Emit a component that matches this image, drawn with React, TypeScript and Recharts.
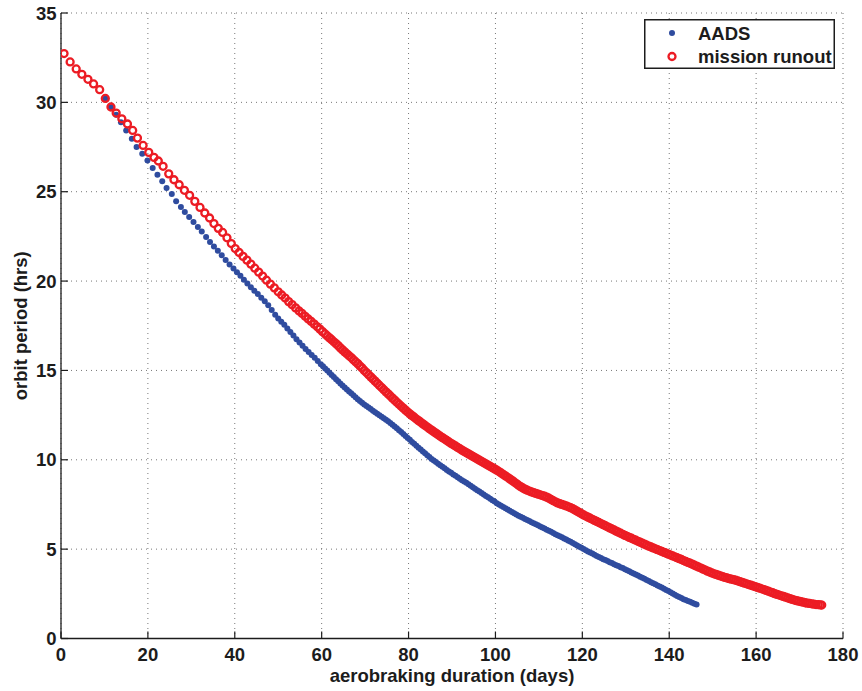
import { CartesianGrid, Legend, Scatter, ScatterChart, XAxis, YAxis } from "recharts";

// aerobraking: orbit period vs days, AADS vs mission runout
const xTicks = [0, 20, 40, 60, 80, 100, 120, 140, 160, 180];
const yTicks = [0, 5, 10, 15, 20, 25, 30, 35];
const seriesNames = ["AADS", "mission runout"];
const xTitle = "aerobraking duration (days)";
const yTitle = "orbit period (hrs)";

// [day, period hrs]
const aadsPoints: [number, number][] = [
  [10.2, 30.22], [11.5, 29.72], [12.7, 29.3], [13.8, 28.88], [15.0, 28.42], [16.3, 27.97], [17.4, 27.5],
  [18.7, 27.13], [19.9, 26.74], [21.1, 26.33], [22.2, 25.95], [23.3, 25.58], [24.3, 25.21], [25.5, 24.87],
  [26.5, 24.46], [27.6, 24.14], [28.5, 23.86], [29.5, 23.58], [30.5, 23.3], [31.5, 23.03], [32.4, 22.78],
  [33.4, 22.46], [34.3, 22.18], [35.2, 21.93], [36.1, 21.7], [37.0, 21.45], [37.9, 21.18], [38.8, 20.93],
  [39.7, 20.7], [40.5, 20.49], [41.3, 20.3], [42.1, 20.08], [42.9, 19.86], [43.7, 19.65], [44.5, 19.46],
  [45.3, 19.28], [46.1, 19.07], [46.9, 18.87], [47.7, 18.65], [48.5, 18.38], [49.3, 18.11], [50.0, 17.9],
  [50.7, 17.73], [51.4, 17.55], [52.1, 17.35], [52.8, 17.15], [53.5, 16.95], [54.2, 16.75], [54.9, 16.56],
  [55.6, 16.38], [56.3, 16.2], [57.0, 16.03], [57.7, 15.87], [58.4, 15.71], [59.1, 15.53], [59.8, 15.35],
  [60.3, 15.23], [60.8, 15.11], [61.3, 14.99], [61.8, 14.87], [62.3, 14.75], [62.8, 14.63], [63.3, 14.51],
  [63.8, 14.39], [64.3, 14.27], [64.8, 14.15], [65.3, 14.04], [65.8, 13.93], [66.3, 13.82], [66.8, 13.72],
  [67.3, 13.61], [67.8, 13.5], [68.3, 13.39], [68.8, 13.29], [69.3, 13.19], [69.8, 13.1], [70.3, 13.01],
  [70.8, 12.92], [71.3, 12.84], [71.8, 12.75], [72.3, 12.66], [72.8, 12.57], [73.3, 12.49], [73.8, 12.41],
  [74.3, 12.33], [74.8, 12.24], [75.3, 12.15], [75.8, 12.06], [76.3, 11.96], [76.8, 11.86], [77.3, 11.76],
  [77.8, 11.65], [78.3, 11.55], [78.8, 11.44], [79.3, 11.33], [79.8, 11.22], [80.3, 11.12], [80.8, 11.0],
  [81.3, 10.9], [81.8, 10.79], [82.3, 10.68], [82.8, 10.58], [83.3, 10.47], [83.8, 10.36], [84.3, 10.26],
  [84.8, 10.15], [85.3, 10.05], [85.8, 9.96], [86.3, 9.87], [86.8, 9.78], [87.3, 9.69], [87.8, 9.61],
  [88.3, 9.52], [88.8, 9.43], [89.3, 9.35], [89.8, 9.27], [90.3, 9.18], [90.8, 9.1], [91.3, 9.02],
  [91.8, 8.94], [92.3, 8.86], [92.8, 8.78], [93.3, 8.71], [93.8, 8.63], [94.3, 8.55], [94.8, 8.47],
  [95.3, 8.38], [95.8, 8.3], [96.3, 8.22], [96.8, 8.14], [97.3, 8.06], [97.8, 7.98], [98.3, 7.9],
  [98.8, 7.82], [99.3, 7.74], [99.8, 7.66], [100.3, 7.57], [100.8, 7.5], [101.3, 7.43], [101.8, 7.36],
  [102.3, 7.29], [102.8, 7.22], [103.3, 7.15], [103.8, 7.08], [104.3, 7.01], [104.8, 6.94], [105.3, 6.87],
  [105.8, 6.81], [106.3, 6.75], [106.8, 6.69], [107.3, 6.63], [107.8, 6.57], [108.3, 6.51], [108.8, 6.45],
  [109.3, 6.39], [109.8, 6.33], [110.3, 6.27], [110.8, 6.21], [111.3, 6.15], [111.8, 6.09], [112.3, 6.03],
  [112.8, 5.97], [113.3, 5.9], [113.8, 5.84], [114.3, 5.78], [114.8, 5.72], [115.3, 5.66], [115.8, 5.6],
  [116.3, 5.54], [116.8, 5.47], [117.3, 5.41], [117.8, 5.34], [118.3, 5.27], [118.8, 5.2], [119.3, 5.14],
  [119.8, 5.08], [120.3, 5.01], [120.8, 4.94], [121.3, 4.87], [121.8, 4.81], [122.3, 4.75], [122.8, 4.68],
  [123.3, 4.62], [123.8, 4.56], [124.3, 4.5], [124.8, 4.44], [125.3, 4.39], [125.8, 4.33], [126.3, 4.27],
  [126.8, 4.22], [127.3, 4.16], [127.8, 4.1], [128.3, 4.05], [128.8, 3.99], [129.3, 3.94], [129.8, 3.88],
  [130.3, 3.82], [130.8, 3.76], [131.3, 3.7], [131.8, 3.64], [132.3, 3.58], [132.8, 3.52], [133.3, 3.46],
  [133.8, 3.4], [134.3, 3.34], [134.8, 3.28], [135.3, 3.22], [135.8, 3.15], [136.3, 3.09], [136.8, 3.03],
  [137.3, 2.97], [137.8, 2.91], [138.3, 2.85], [138.8, 2.79], [139.3, 2.72], [139.8, 2.66], [140.3, 2.59],
  [140.8, 2.52], [141.3, 2.45], [141.8, 2.38], [142.3, 2.32], [142.8, 2.26], [143.3, 2.2], [143.8, 2.15],
  [144.3, 2.1], [144.8, 2.05], [145.3, 2.0], [145.8, 1.95], [146.3, 1.9],
];

const runoutPoints: [number, number][] = [
  [0.7, 32.73], [2.1, 32.26], [3.5, 31.87], [4.8, 31.57], [6.2, 31.29], [7.5, 31.03], [8.9, 30.71],
  [10.2, 30.22], [11.5, 29.74], [12.7, 29.4], [14.0, 29.08], [15.3, 28.79], [16.5, 28.43], [17.6, 28.0],
  [18.9, 27.59], [20.2, 27.2], [21.4, 26.92], [22.4, 26.72], [23.5, 26.42], [24.8, 26.0], [26.0, 25.67],
  [27.2, 25.39], [28.4, 25.08], [29.6, 24.8], [30.8, 24.46], [32.0, 24.12], [33.1, 23.81], [34.2, 23.53],
  [35.2, 23.22], [36.2, 22.95], [37.2, 22.72], [38.2, 22.42], [39.2, 22.1], [40.1, 21.82], [41.0, 21.6],
  [41.9, 21.38], [42.8, 21.17], [43.7, 20.95], [44.6, 20.72], [45.5, 20.5], [46.4, 20.28], [47.3, 20.05],
  [48.2, 19.83], [49.1, 19.62], [50.0, 19.4], [50.8, 19.22], [51.6, 19.05], [52.4, 18.85], [53.2, 18.68],
  [54.0, 18.5], [54.8, 18.33], [55.5, 18.19], [56.2, 18.03], [56.9, 17.88], [57.6, 17.74], [58.3, 17.59],
  [59.0, 17.44], [59.6, 17.31], [60.2, 17.17], [60.8, 17.04], [61.3, 16.93], [61.8, 16.82], [62.3, 16.72],
  [62.8, 16.6], [63.3, 16.5], [63.8, 16.39], [64.3, 16.26], [64.8, 16.15], [65.3, 16.04], [65.8, 15.93],
  [66.3, 15.82], [66.8, 15.72], [67.3, 15.6], [67.8, 15.49], [68.3, 15.38], [68.8, 15.25], [69.3, 15.14],
  [69.8, 15.0], [70.3, 14.88], [70.8, 14.76], [71.3, 14.64], [71.8, 14.52], [72.3, 14.4], [72.8, 14.28],
  [73.3, 14.16], [73.8, 14.04], [74.3, 13.92], [74.8, 13.8], [75.3, 13.69], [75.8, 13.57], [76.3, 13.45],
  [76.8, 13.34], [77.3, 13.22], [77.8, 13.11], [78.3, 13.0], [78.8, 12.89], [79.3, 12.78], [79.8, 12.67],
  [80.3, 12.57], [80.8, 12.47], [81.3, 12.38], [81.8, 12.28], [82.3, 12.19], [82.8, 12.1], [83.3, 12.01],
  [83.8, 11.92], [84.3, 11.83], [84.8, 11.74], [85.3, 11.66], [85.8, 11.57], [86.3, 11.49], [86.8, 11.4],
  [87.3, 11.32], [87.8, 11.24], [88.3, 11.16], [88.8, 11.08], [89.3, 11.0], [89.8, 10.92], [90.3, 10.84],
  [90.8, 10.77], [91.3, 10.69], [91.8, 10.62], [92.3, 10.54], [92.8, 10.47], [93.3, 10.4], [93.8, 10.33],
  [94.3, 10.26], [94.8, 10.19], [95.3, 10.12], [95.8, 10.05], [96.3, 9.98], [96.8, 9.91], [97.3, 9.84],
  [97.8, 9.77], [98.3, 9.7], [98.8, 9.63], [99.3, 9.56], [99.8, 9.49], [100.3, 9.42], [100.8, 9.34],
  [101.3, 9.26], [101.8, 9.18], [102.3, 9.1], [102.8, 9.02], [103.3, 8.93], [103.8, 8.85], [104.3, 8.76],
  [104.8, 8.67], [105.3, 8.58], [105.8, 8.5], [106.3, 8.42], [106.8, 8.36], [107.3, 8.3], [107.8, 8.25],
  [108.3, 8.2], [108.8, 8.16], [109.3, 8.12], [109.8, 8.08], [110.3, 8.04], [110.8, 8.0], [111.3, 7.96],
  [111.8, 7.91], [112.3, 7.85], [112.8, 7.78], [113.3, 7.71], [113.8, 7.65], [114.3, 7.59], [114.8, 7.54],
  [115.3, 7.5], [115.8, 7.46], [116.3, 7.42], [116.8, 7.37], [117.3, 7.32], [117.8, 7.26], [118.3, 7.19],
  [118.8, 7.12], [119.3, 7.05], [119.8, 6.98], [120.3, 6.91], [120.8, 6.85], [121.3, 6.79], [121.8, 6.73],
  [122.3, 6.67], [122.8, 6.61], [123.3, 6.55], [123.8, 6.49], [124.3, 6.43], [124.8, 6.37], [125.3, 6.31],
  [125.8, 6.25], [126.3, 6.19], [126.8, 6.13], [127.3, 6.07], [127.8, 6.01], [128.3, 5.95], [128.8, 5.89],
  [129.3, 5.83], [129.8, 5.77], [130.3, 5.72], [130.8, 5.66], [131.3, 5.61], [131.8, 5.55], [132.3, 5.5],
  [132.8, 5.44], [133.3, 5.39], [133.8, 5.33], [134.3, 5.28], [134.8, 5.22], [135.3, 5.17], [135.8, 5.12],
  [136.3, 5.07], [136.8, 5.02], [137.3, 4.97], [137.8, 4.92], [138.3, 4.87], [138.8, 4.82], [139.3, 4.77],
  [139.8, 4.72], [140.3, 4.67], [140.8, 4.62], [141.3, 4.57], [141.8, 4.52], [142.3, 4.47], [142.8, 4.42],
  [143.3, 4.36], [143.8, 4.31], [144.3, 4.26], [144.8, 4.21], [145.3, 4.16], [145.8, 4.1], [146.3, 4.05],
  [146.8, 3.99], [147.3, 3.94], [147.8, 3.88], [148.3, 3.83], [148.8, 3.77], [149.3, 3.72], [149.8, 3.67],
  [150.3, 3.62], [150.8, 3.58], [151.3, 3.54], [151.8, 3.5], [152.3, 3.46], [152.8, 3.42], [153.3, 3.39],
  [153.8, 3.35], [154.3, 3.32], [154.8, 3.29], [155.3, 3.26], [155.8, 3.22], [156.3, 3.18], [156.8, 3.14],
  [157.3, 3.1], [157.8, 3.06], [158.3, 3.02], [158.8, 2.98], [159.3, 2.94], [159.8, 2.9], [160.3, 2.86],
  [160.8, 2.82], [161.3, 2.78], [161.8, 2.74], [162.3, 2.69], [162.8, 2.65], [163.3, 2.6], [163.8, 2.56],
  [164.3, 2.51], [164.8, 2.47], [165.3, 2.43], [165.8, 2.39], [166.3, 2.35], [166.8, 2.31], [167.3, 2.27],
  [167.8, 2.23], [168.3, 2.19], [168.8, 2.15], [169.3, 2.12], [169.8, 2.09], [170.3, 2.06], [170.8, 2.03],
  [171.3, 2.0], [171.8, 1.98], [172.3, 1.96], [172.8, 1.94], [173.3, 1.92], [173.8, 1.9], [174.3, 1.89],
  [174.8, 1.88], [175.1, 1.87],
];

const BLUE = "#2f4c9f";
const RED = "#ec1c24";
const INK = "#1c1c1c";
const FONT = '"Liberation Sans", Arial, Helvetica, sans-serif';
const textStyle = { fontFamily: FONT, fontWeight: 700, fontSize: 18.5, fill: INK };

const aadsData = aadsPoints.map(([x, y]) => ({ x, y }));
const runoutData = runoutPoints.map(([x, y]) => ({ x, y }));

const BlueDot = (p: any) => <circle cx={p.cx} cy={p.cy} r={3} fill={BLUE} />;
const RedRing = (p: any) => (
  <circle cx={p.cx} cy={p.cy} r={3.5} fill="none" stroke={RED} strokeWidth={2.3} />
);

// MATLAB style: ticks point inward, labels outside
const BottomTick = ({ x, y, payload }: any) => (
  <g>
    <line x1={x} y1={y} x2={x} y2={y - 7} stroke={INK} strokeWidth={1.2} />
    <text x={x} y={y + 22} textAnchor="middle" style={textStyle}>
      {payload.value}
    </text>
  </g>
);
const TopTick = ({ x, y }: any) => (
  <line x1={x} y1={y} x2={x} y2={y + 7} stroke={INK} strokeWidth={1.2} />
);
const LeftTick = ({ x, y, payload }: any) => (
  <g>
    <line x1={x} y1={y} x2={x + 7} y2={y} stroke={INK} strokeWidth={1.2} />
    <text x={x - 4.5} y={y + 6.6} textAnchor="end" style={textStyle}>
      {payload.value}
    </text>
  </g>
);
const RightTick = ({ x, y }: any) => (
  <line x1={x} y1={y} x2={x - 7} y2={y} stroke={INK} strokeWidth={1.2} />
);

function LegendBox({ payload }: any) {
  const names = payload && payload.length === 2 ? payload.map((p: any) => p.value) : seriesNames;
  return (
    <svg width={191} height={50} style={{ display: "block" }}>
      <rect x={0.75} y={0.75} width={189.5} height={48.5} fill="#fff" stroke={INK} strokeWidth={1.5} />
      <circle cx={28} cy={14} r={3} fill={BLUE} />
      <text x={54} y={20.5} style={textStyle}>{names[0]}</text>
      <circle cx={28} cy={37.5} r={3.5} fill="none" stroke={RED} strokeWidth={2.3} />
      <text x={54} y={43.5} style={textStyle}>{names[1]}</text>
    </svg>
  );
}

export default function App() {
  return (
    <div style={{ position: "absolute", left: 0, top: 0, background: "#fff" }}>
      <ScatterChart
        width={862}
        height={691}
        margin={{ top: 13, right: 19, bottom: 22.5, left: 20 }}
      >
        <CartesianGrid stroke="#777" strokeDasharray="1 4" strokeWidth={1} />
        <XAxis
          type="number"
          dataKey="x"
          domain={[0, 180]}
          ticks={xTicks}
          interval={0}
          height={30}
          tickSize={0}
          tickMargin={0}
          tick={<BottomTick />}
          axisLine={{ stroke: INK, strokeWidth: 1.3 }}
          allowDataOverflow
          label={{
            content: ({ viewBox }: any) => (
              <text
                x={viewBox.x + viewBox.width / 2}
                y={viewBox.y + 43.5}
                textAnchor="middle"
                style={textStyle}
              >
                {xTitle}
              </text>
            ),
          }}
        />
        <XAxis
          xAxisId="top"
          orientation="top"
          type="number"
          dataKey="x"
          domain={[0, 180]}
          ticks={xTicks}
          interval={0}
          height={0}
          tickSize={0}
          tickMargin={0}
          tick={<TopTick />}
          axisLine={{ stroke: INK, strokeWidth: 1.3 }}
          allowDataOverflow
        />
        <YAxis
          type="number"
          dataKey="y"
          domain={[0, 35]}
          ticks={yTicks}
          interval={0}
          width={41}
          tickSize={0}
          tickMargin={0}
          tick={<LeftTick />}
          axisLine={{ stroke: INK, strokeWidth: 1.3 }}
          allowDataOverflow
          label={{
            content: ({ viewBox }: any) => {
              const cx = viewBox.x + 7;
              const cy = viewBox.y + viewBox.height / 2;
              return (
                <text
                  x={cx}
                  y={cy}
                  textAnchor="middle"
                  transform={`rotate(-90 ${cx} ${cy})`}
                  style={textStyle}
                >
                  {yTitle}
                </text>
              );
            },
          }}
        />
        <YAxis
          yAxisId="right"
          orientation="right"
          type="number"
          dataKey="y"
          domain={[0, 35]}
          ticks={yTicks}
          interval={0}
          width={0}
          tickSize={0}
          tickMargin={0}
          tick={<RightTick />}
          axisLine={{ stroke: INK, strokeWidth: 1.3 }}
          allowDataOverflow
        />
        <Legend
          layout="horizontal"
          align="center"
          verticalAlign="middle"
          wrapperStyle={{ left: 644, top: 19, width: 191, height: 50 }}
          content={(props: any) => <LegendBox payload={props.payload} />}
        />
        <Scatter
          name={seriesNames[0]}
          data={aadsData}
          fill={BLUE}
          shape={BlueDot}
          isAnimationActive={false}
        />
        <Scatter
          name={seriesNames[1]}
          data={runoutData}
          fill={RED}
          shape={RedRing}
          isAnimationActive={false}
        />
      </ScatterChart>
    </div>
  );
}
